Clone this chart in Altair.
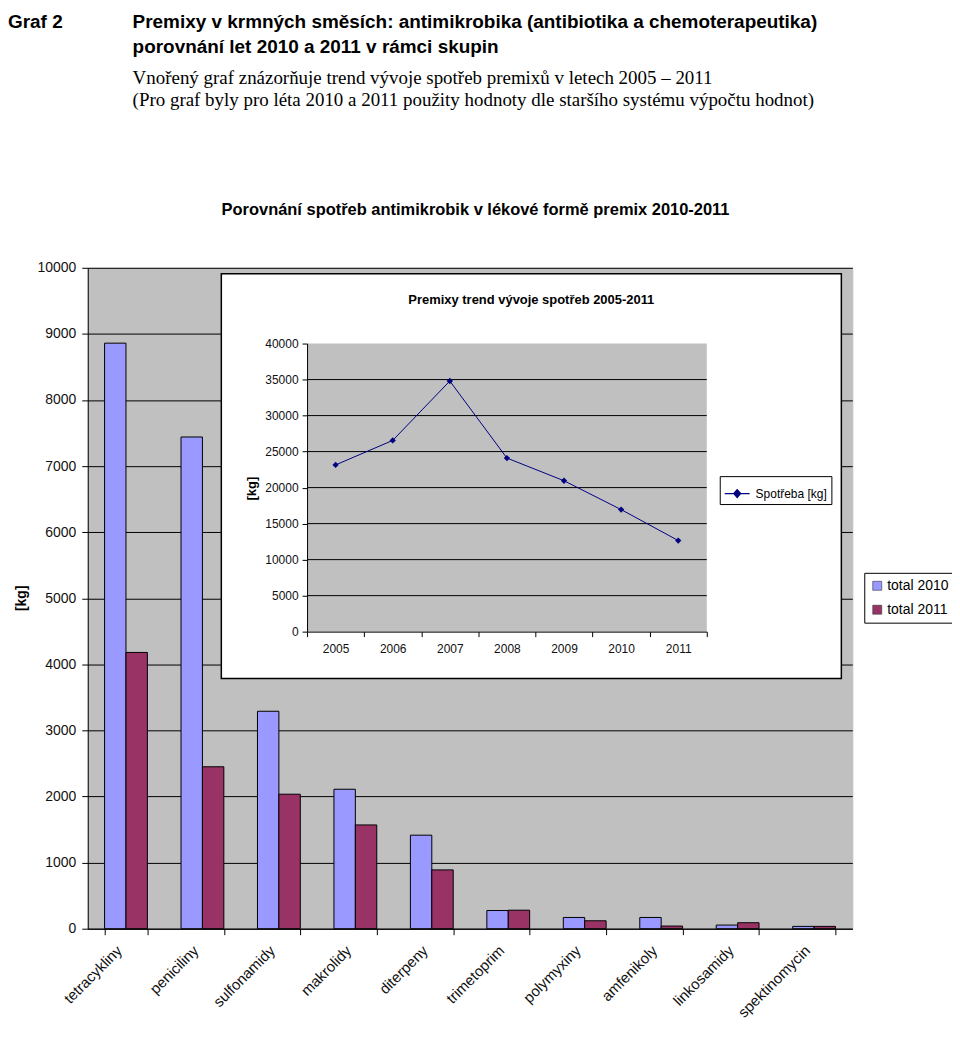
import altair as alt
import pandas as pd

# ---------------- data ----------------
categories = ["tetracykliny", "peniciliny", "sulfonamidy", "makrolidy", "diterpeny",
              "trimetoprim", "polymyxiny", "amfenikoly", "linkosamidy", "spektinomycin"]
total_2010 = [8860, 7440, 3290, 2110, 1415, 275, 170, 170, 55, 35]
total_2011 = [4180, 2450, 2035, 1570, 890, 280, 120, 40, 90, 35]
series_names = ["total 2010", "total 2011"]
y_ticks = [0, 1000, 2000, 3000, 4000, 5000, 6000, 7000, 8000, 9000, 10000]

years = ["2005", "2006", "2007", "2008", "2009", "2010", "2011"]
spotreba = [23150, 26550, 34800, 24100, 20950, 16950, 12650]
inset_ticks = [0, 5000, 10000, 15000, 20000, 25000, 30000, 35000, 40000]
inset_grid = [5000, 10000, 15000, 20000, 25000, 30000, 35000]
line_series = "Spotřeba [kg]"

header_graf = "Graf 2"
header_l1 = "Premixy v krmných směsích: antimikrobika (antibiotika a chemoterapeutika)"
header_l2 = "porovnání let 2010 a 2011 v rámci skupin"
header_l3 = "Vnořený graf znázorňuje trend vývoje spotřeb premixů v letech 2005 – 2011"
header_l4 = "(Pro graf byly pro léta 2010 a 2011 použity hodnoty dle staršího systému výpočtu hodnot)"
main_title = "Porovnání spotřeb antimikrobik v lékové formě premix 2010-2011"
inset_title = "Premixy trend vývoje spotřeb 2005-2011"

FONT = "Liberation Sans"

bars_df = pd.DataFrame({
    "kategorie": categories * 2,
    "serie": [series_names[0]] * len(categories) + [series_names[1]] * len(categories),
    "hodnota": total_2010 + total_2011,
})
line_df = pd.DataFrame({"rok": years, "hodnota": spotreba, "serie": [line_series] * len(years)})
grid_df = pd.DataFrame({"tick": inset_grid})
one = pd.DataFrame({"a": [0]})

# ---------------- main bar chart ----------------
bars = alt.Chart(bars_df).mark_bar(stroke="black", strokeWidth=1).encode(
    x=alt.X("kategorie:N", sort=categories,
            scale=alt.Scale(paddingInner=0.44, paddingOuter=0.22),
            axis=alt.Axis(title=None, labelAngle=-45, labelAlign="right", labelBaseline="middle",
                          labelFontSize=15, labelFont=FONT, labelColor="#111", labelPadding=13,
                          labelOffset=-7, labelOverlap=False, labelLimit=300, tickBand="extent",
                          tickSize=6, tickColor="black", domainColor="black", grid=False)),
    xOffset=alt.XOffset("serie:N", sort=series_names,
                        scale=alt.Scale(paddingInner=0, paddingOuter=0)),
    y=alt.Y("hodnota:Q", scale=alt.Scale(domain=[0, 10000], nice=False),
            axis=alt.Axis(title="[kg]", values=y_ticks, format="d", labelFontSize=14,
                          labelFont=FONT, labelColor="#111", tickSize=6, tickColor="black",
                          domainColor="black", grid=True, gridColor="black", gridWidth=1,
                          gridOpacity=1, titleFont=FONT, titleFontSize=14, titleFontWeight="bold",
                          titleColor="black", titleX=-66, titleY=331, titleBaseline="middle",
                          titleAlign="center", labelPadding=6)),
    color=alt.Color("serie:N", scale=alt.Scale(domain=series_names, range=["#9999ff", "#993366"]),
                    legend=alt.Legend(title=None, orient="none", legendX=779, legendY=306,
                                      strokeColor="black", fillColor="white", padding=6,
                                      symbolType="square", symbolSize=81, labelFontSize=14,
                                      labelFont=FONT, labelColor="black", rowPadding=10,
                                      symbolStrokeColor="#333", symbolStrokeWidth=0.6,
                                      labelOffset=3)),
)


def txt(text, x, y, size, weight="normal", font=FONT, align="left"):
    return alt.Chart(pd.DataFrame({"t": [text]})).mark_text(
        align=align, baseline="middle", fontSize=size, fontWeight=weight, font=font, color="black"
    ).encode(text="t:N", x=alt.value(x), y=alt.value(y))


texts = [
    txt(header_graf, -80, -247, 19, "bold"),
    txt(header_l1, 45, -247, 19, "bold"),
    txt(header_l2, 45, -221, 19, "bold"),
    txt(header_l3, 45, -190, 19, "normal", "Liberation Serif"),
    txt(header_l4, 45, -168, 19, "normal", "Liberation Serif"),
    txt(main_title, 389, -58, 16.5, "bold", align="center"),
]

main = alt.layer(bars, *texts)

# ---------------- inset line chart ----------------
IX0, IX1, IY0, IY1 = 220, 621, 76, 365

box = alt.Chart(one).mark_rect(fill="white", stroke="black", strokeWidth=1.5).encode(
    x=alt.value(134), x2=alt.value(756), y=alt.value(6), y2=alt.value(412))
plotbg = alt.Chart(one).mark_rect(fill="#c0c0c0").encode(
    x=alt.value(IX0), x2=alt.value(IX1), y=alt.value(IY0), y2=alt.value(IY1))
ititle = txt(inset_title, 445, 32, 13, "bold", align="center")

inset_y_scale = alt.Scale(domain=[0, 40000], range=[IY1, IY0], nice=False)
inset_x_scale = alt.Scale(type="band", domain=years, range=[IX0, IX1], paddingInner=0, paddingOuter=0)
inset_y_axis = alt.Axis(title="[kg]", orient="left", offset=-IX0, values=inset_ticks, format="d",
                        labelFontSize=12, labelFont=FONT, labelColor="#111", tickSize=5,
                        tickColor="black", domainColor="black", grid=False, zindex=1,
                        titleFont=FONT, titleFontSize=13, titleFontWeight="bold", titleColor="black",
                        titleX=-56, titleY=221, titleBaseline="middle", titleAlign="center",
                        labelPadding=4)
inset_x_axis = alt.Axis(title=None, orient="bottom", offset=-(663 - IY1), labelAngle=0,
                        labelFontSize=12, labelFont=FONT, labelColor="#111", tickSize=5,
                        tickColor="black", domainColor="black", grid=False, zindex=1,
                        tickBand="extent", labelPadding=7)

grid = alt.Chart(grid_df).mark_rule(color="black", strokeWidth=1).encode(
    y=alt.Y("tick:Q", scale=inset_y_scale, axis=inset_y_axis),
    x=alt.value(IX0), x2=alt.value(IX1))

line = alt.Chart(line_df).mark_line(color="#000080", strokeWidth=1).encode(
    x=alt.X("rok:O", scale=inset_x_scale, axis=inset_x_axis),
    y=alt.Y("hodnota:Q", scale=inset_y_scale, axis=inset_y_axis))

points = alt.Chart(line_df).mark_point(shape="diamond", filled=True, size=40, opacity=1).encode(
    x=alt.X("rok:O", scale=inset_x_scale, axis=inset_x_axis),
    y=alt.Y("hodnota:Q", scale=inset_y_scale, axis=inset_y_axis),
    color=alt.Color("serie:N", scale=alt.Scale(domain=[line_series], range=["#000080"]),
                    legend=alt.Legend(title=None, orient="none", legendX=634, legendY=209,
                                      strokeColor="black", fillColor="white", padding=4,
                                      symbolType="M-1,0L1,0M0,-0.32L0.28,0L0,0.32L-0.28,0Z",
                                      symbolSize=625, symbolStrokeColor="#000080",
                                      symbolFillColor="#000080", symbolStrokeWidth=1.2,
                                      labelFontSize=12, labelFont=FONT, labelColor="black",
                                      labelOffset=5)),
)

inset = alt.layer(box, plotbg, ititle, grid, line, points)

chart = alt.layer(main, inset).resolve_scale(
    x="independent", y="independent", color="independent"
).properties(
    width=767, height=663,
    autosize=alt.AutoSizeParams(type="none"),
    padding={"left": 80, "top": 259, "right": 100, "bottom": 100},
    background="white",
).configure_view(fill="#c0c0c0", stroke="#c0c0c0")

chart.save("out.html", embed_options={"renderer": "svg", "actions": False})
